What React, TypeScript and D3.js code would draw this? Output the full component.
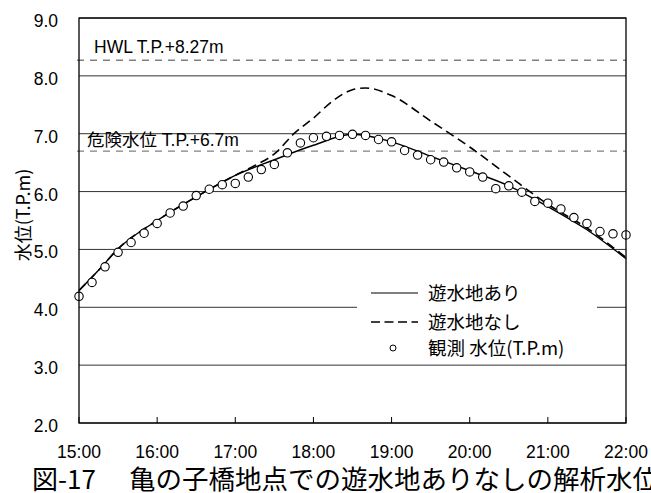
import React from "react";
import * as d3 from "d3";

// ---- data ----
const xTickLabels = ["15:00", "16:00", "17:00", "18:00", "19:00", "20:00", "21:00", "22:00"];
const yTicks = [2, 3, 4, 5, 6, 7, 8, 9];

// minutes from 15:00
const withBasinTimes = [0, 15, 30, 60, 90, 120, 150, 180, 210, 240, 270, 300, 330, 360, 390, 420];
const withBasinLevels = [4.29, 4.64, 5.01, 5.5, 5.91, 6.28, 6.55, 6.8, 6.99, 6.86, 6.61, 6.36, 6.1, 5.74, 5.34, 4.84];

const noBasinTimes = [0, 15, 30, 60, 90, 120, 135, 150, 165, 180, 195, 210, 220, 240, 270, 300, 330, 360, 390, 420];
const noBasinLevels = [4.29, 4.64, 5.01, 5.5, 5.91, 6.28, 6.45, 6.65, 7.0, 7.27, 7.57, 7.76, 7.79, 7.66, 7.22, 6.77, 6.27, 5.78, 5.37, 4.86];

// observed every 10 minutes from 15:00
const observedLevels = [
  4.19, 4.43, 4.7, 4.95, 5.12, 5.28, 5.45, 5.63, 5.75, 5.93, 6.04, 6.12, 6.14, 6.25, 6.38,
  6.47, 6.67, 6.84, 6.93, 6.955, 6.97, 6.99, 6.97, 6.9, 6.86, 6.71, 6.63, 6.55, 6.51, 6.41,
  6.34, 6.25, 6.05, 6.1, 5.99, 5.83, 5.8, 5.7, 5.55, 5.45, 5.31, 5.27, 5.25,
];

const refLevels = [8.27, 6.7];
const refLabels = ["HWL T.P.+8.27m", "危険水位 T.P.+6.7m"];
const legendLabels = ["遊水地あり", "遊水地なし", "観測 水位(T.P.m)"];
const yAxisTitle = "水位(T.P.m)";
const titleLeft = "図-17";
const titleRight = "亀の子橋地点での遊水地ありなしの解析水位";

const FONT = "'Liberation Sans', Arial, 'Noto Sans CJK JP', sans-serif";
const JFONT = "'Noto Sans CJK JP', 'Liberation Sans', sans-serif";

export default function App() {
  const W = 651, H = 493;
  const L = 79, R = 626, T = 18, B = 423;
  const x = d3.scaleLinear().domain([0, 420]).range([L, R]);
  const y = d3.scaleLinear().domain([2, 9]).range([B, T]);

  const line = d3
    .line<[number, number]>()
    .x((d) => x(d[0]))
    .y((d) => y(d[1]))
    .curve(d3.curveMonotoneX);

  const solidPath = line(withBasinTimes.map((t, i) => [t, withBasinLevels[i]]) as [number, number][]) || "";
  const dashPath = line(noBasinTimes.map((t, i) => [t, noBasinLevels[i]]) as [number, number][]) || "";

  const hourTicks = xTickLabels.map((_, i) => i * 60);

  return (
    <svg width={W} height={H} style={{ position: "absolute", left: 0, top: 0, background: "#fff" }}>
      <rect x={0} y={0} width={W} height={H} fill="#fff" />
      {/* grid lines */}
      {yTicks.map((v) => (
        <line key={"g" + v} x1={L} x2={R} y1={y(v)} y2={y(v)} stroke="#333" strokeWidth={1} />
      ))}
      {/* reference dashed lines */}
      {refLevels.map((v) => (
        <line key={"r" + v} x1={L - 2} x2={R} y1={y(v)} y2={y(v)} stroke="#808080" strokeWidth={1.3} strokeDasharray="7,6" />
      ))}
      <text x={94} y={y(8.27) - 7} fontFamily={FONT} fontSize={17.5} fill="#000">{refLabels[0]}</text>
      <text x={87} y={y(6.7) - 5} fontFamily={FONT} fontSize={17.5} fill="#000">{refLabels[1]}</text>

      {/* x ticks inward */}
      {hourTicks.map((t) => (
        <line key={"xt" + t} x1={x(t)} x2={x(t)} y1={B} y2={B - 6} stroke="#000" strokeWidth={1} />
      ))}

      {/* series */}
      <path d={dashPath} fill="none" stroke="#000" strokeWidth={1.6} strokeDasharray="9,5" />
      <path d={solidPath} fill="none" stroke="#000" strokeWidth={1.4} />
      {observedLevels.map((v, i) => (
        <circle key={"o" + i} cx={x(i * 10)} cy={y(v)} r={4.2} fill="#fff" stroke="#000" strokeWidth={1.1} />
      ))}

      {/* legend */}
      <rect x={357} y={268} width={240} height={93} fill="#fff" />
      <line x1={371} x2={418} y1={293} y2={293} stroke="#000" strokeWidth={1.2} />
      <line x1={371} x2={418} y1={322} y2={322} stroke="#000" strokeWidth={1.6} strokeDasharray="9,4.5" />
      <circle cx={393} cy={348} r={3} fill="#fff" stroke="#000" strokeWidth={1} />
      {legendLabels.map((s, i) => (
        <text key={"l" + i} x={428} y={[293, 322, 348][i] + 7} fontFamily={JFONT} fontSize={18.5} fill="#000">{s}</text>
      ))}

      {/* frame */}
      <rect x={L} y={T} width={R - L} height={B - T} fill="none" stroke="#000" strokeWidth={1.3} />

      {/* y tick labels */}
      {yTicks.map((v) => (
        <text key={"yl" + v} x={58} y={y(v) + 9} textAnchor="end" fontFamily={FONT} fontSize={17.5} fill="#000">{v.toFixed(1)}</text>
      ))}
      {/* x tick labels */}
      {hourTicks.map((t, i) => (
        <text key={"xl" + t} x={x(t)} y={458} textAnchor="middle" fontFamily={FONT} fontSize={17.5} fill="#000">{xTickLabels[i]}</text>
      ))}

      {/* y axis title */}
      <text transform={`translate(30,215) rotate(-90)`} textAnchor="middle" fontFamily={JFONT} fontSize={18} fill="#000">{yAxisTitle}</text>

      {/* caption */}
      <text x={32} y={489} fontFamily={JFONT} fontSize={26} fill="#000">{titleLeft}</text>
      <text x={129} y={489} fontFamily={JFONT} fontSize={26.5} fill="#000">{titleRight}</text>
    </svg>
  );
}
